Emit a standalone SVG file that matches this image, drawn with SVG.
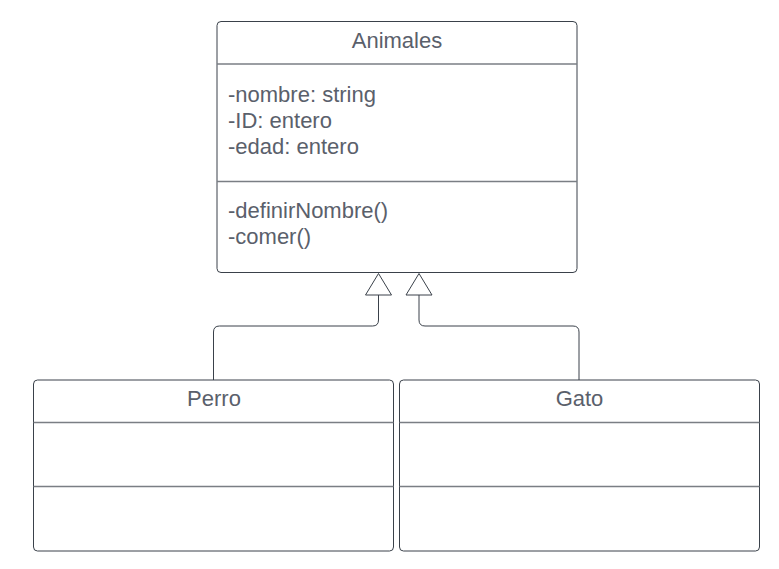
<svg xmlns="http://www.w3.org/2000/svg" width="779" height="569" viewBox="0 0 779 569">
<style>
.box{fill:#ffffff;stroke:#3a414a;stroke-width:1}
.div{stroke:#7a7e84;stroke-width:1.5}
.t{font-family:"Liberation Sans",Arial,sans-serif;font-size:22px;fill:#5a606b}
.c{text-anchor:middle}
.conn{fill:none;stroke:#3a414a;stroke-width:1}
.tri{fill:#ffffff;stroke:#3a414a;stroke-width:1}
</style>
<rect width="779" height="569" fill="#ffffff"/>
<g id="connectors">
<path class="conn" d="M378.5,295 V320 Q378.5,326 372.5,326 H219.5 Q213.5,326 213.5,332 V380"/>
<path class="conn" d="M419,295 V320 Q419,326 425,326 H573 Q579,326 579,332 V380"/>
<polygon class="tri" points="378.5,273.5 391.5,295 365.5,295"/>
<polygon class="tri" points="419,273.5 432,295 406,295"/>
</g>
<g id="animales">
<rect class="box" x="217" y="21.5" width="360" height="251" rx="4"/>
<line class="div" x1="217" y1="64" x2="577" y2="64"/>
<line class="div" x1="217" y1="181.5" x2="577" y2="181.5"/>
<text class="t c" x="397" y="47.5">Animales</text>
<text class="t" x="228" y="102">-nombre: string</text>
<text class="t" x="228" y="128">-ID: entero</text>
<text class="t" x="228" y="153.5">-edad: entero</text>
<text class="t" x="228" y="218">-definirNombre()</text>
<text class="t" x="228" y="243.5">-comer()</text>
</g>
<g id="perro">
<rect class="box" x="33.5" y="380" width="360" height="171" rx="4"/>
<line class="div" x1="33.5" y1="422.5" x2="393.5" y2="422.5"/>
<line class="div" x1="33.5" y1="486.5" x2="393.5" y2="486.5"/>
<text class="t c" x="214" y="406">Perro</text>
</g>
<g id="gato">
<rect class="box" x="399.5" y="380" width="360" height="171" rx="4"/>
<line class="div" x1="399.5" y1="422.5" x2="759.5" y2="422.5"/>
<line class="div" x1="399.5" y1="486.5" x2="759.5" y2="486.5"/>
<text class="t c" x="579.5" y="406">Gato</text>
</g>
</svg>
